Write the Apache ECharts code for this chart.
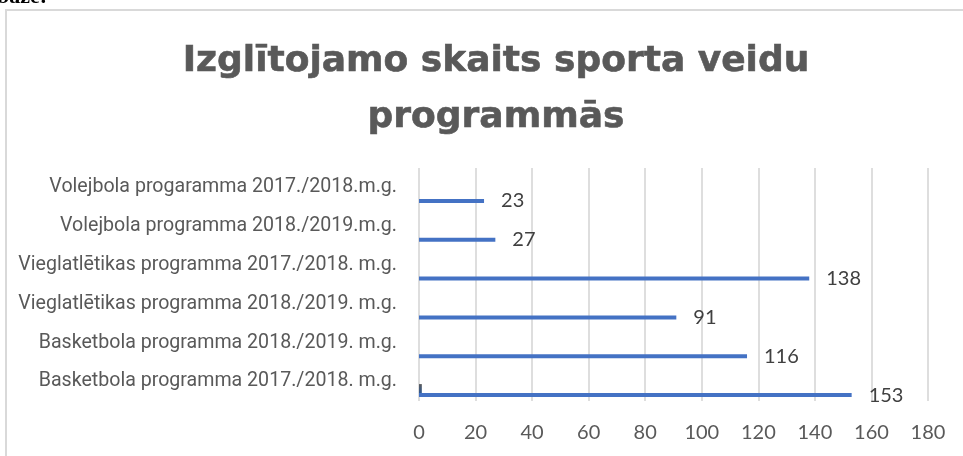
<!DOCTYPE html>
<html>
<head>
<meta charset="utf-8">
<script src="https://cdn.jsdelivr.net/npm/echarts@6/dist/echarts.min.js"></script>
<style>
  html, body { margin: 0; padding: 0; background: #fff; }
  #chart { width: 963px; height: 456px; }
</style>
</head>
<body>
<div id="chart"></div>
<script>
const titleText = 'Izglītojamo skaits sporta veidu\nprogrammās'
// top to bottom, as in the picture
const categories = [
  'Volejbola progaramma 2017./2018.m.g.',
  'Volejbola programma 2018./2019.m.g.',
  'Vieglatlētikas programma 2017./2018. m.g.',
  'Vieglatlētikas programma 2018./2019. m.g.',
  'Basketbola programma 2018./2019. m.g.',
  'Basketbola programma 2017./2018. m.g.'
]
const pupils = [23, 27, 138, 91, 116, 153]
// small second series, only visible in the last row
const extraSeries = [null, null, null, null, null, 1]
const xTicks = [0, 20, 40, 60, 80, 100, 120, 140, 160, 180]

const chart = echarts.init(document.getElementById('chart'))

const option = {
  animation: false,
  backgroundColor: '#fff',
  title: {
    text: titleText,
    left: 491,
    top: 29,
    textAlign: 'center',
    textStyle: {
      fontFamily: 'DejaVu Sans',
      fontWeight: 'bold',
      fontSize: 36,
      lineHeight: 56,
      color: '#595959',
      textBorderColor: '#595959',
      textBorderWidth: 0.6
    }
  },
  graphic: [
    {
      type: 'rect',
      silent: true,
      shape: { x: 6, y: 10, width: 1000, height: 500 },
      style: { fill: 'none', stroke: '#d9d9d9', lineWidth: 2 }
    },
    {
      type: 'text',
      silent: true,
      left: -3,
      top: -14,
      style: {
        text: 'bāze:',
        fontFamily: 'Liberation Serif',
        fontWeight: 'bold',
        fontSize: 22,
        fill: '#000'
      }
    }
  ],
  grid: { left: 419, right: 35, top: 168, bottom: 55, containLabel: false },
  xAxis: {
    type: 'value',
    min: xTicks[0],
    max: xTicks[xTicks.length - 1],
    interval: 20,
    axisLine: { show: false },
    axisTick: { show: false },
    axisLabel: {
      margin: 22,
      fontFamily: 'Lato',
      fontSize: 20,
      color: '#595959'
    },
    splitLine: { show: true, lineStyle: { color: '#dedede', width: 2 } }
  },
  yAxis: {
    type: 'category',
    inverse: true,
    data: categories,
    axisLine: { show: false },
    axisTick: { show: false },
    axisLabel: {
      margin: 22,
      fontFamily: 'Liberation Sans Narrow, Roboto',
      fontSize: 19.6,
      color: '#595959'
    }
  },
  series: [
    {
      // spacer, pushes the bars toward the bottom of each row
      type: 'bar',
      data: categories.map(() => null),
      barWidth: 18,
      barGap: '0%',
      silent: true,
      itemStyle: { color: 'rgba(0,0,0,0)' }
    },
    {
      type: 'bar',
      data: extraSeries,
      barWidth: 9,
      barGap: '0%',
      itemStyle: {
        color: new echarts.graphic.LinearGradient(0, 0, 0, 1, [
          { offset: 0, color: '#5a5a5a' },
          { offset: 1, color: '#2f5a94' }
        ])
      }
    },
    {
      type: 'bar',
      data: pupils,
      barWidth: 4,
      barGap: '0%',
      itemStyle: { color: '#4472c4' },
      label: {
        show: true,
        position: 'right',
        distance: 17,
        fontFamily: 'Lato',
        fontSize: 20,
        color: '#404040'
      }
    }
  ]
}

chart.setOption(option)
</script>
</body>
</html>
